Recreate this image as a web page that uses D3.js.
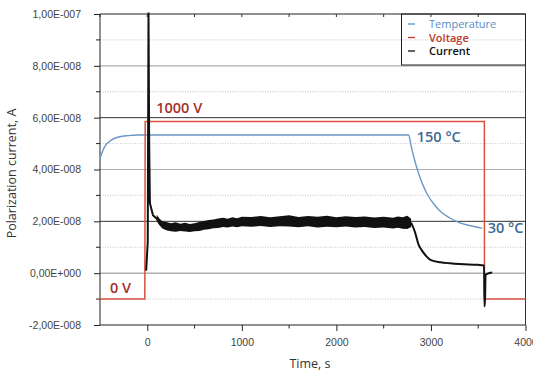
<!DOCTYPE html>
<html><head><meta charset="utf-8">
<script src="https://cdn.jsdelivr.net/npm/d3@7"></script>
<style>
html,body{margin:0;padding:0;background:#fff;}
svg{display:block;font-family:"Open Sans",sans-serif;}
</style></head>
<body>
<svg id="chart" width="533" height="372"></svg>
<script>
// ---------- DATA ----------
const UNIT = 1e-8; // current values below are in units of 1e-8 A

const xTicks = [0, 1000, 2000, 3000, 4000];
const xTickLabels = ["0", "1000", "2000", "3000", "4000"];
const xMinorTicks = [-500, 500, 1500, 2500, 3500];
const yTicks = [-2, 0, 2, 4, 6, 8, 10];
const yTickLabels = ["-2,00E-008", "0,00E+000", "2,00E-008", "4,00E-008", "6,00E-008", "8,00E-008", "1,00E-007"];
const yMinorTicks = [-1, 1, 3, 5, 7, 9];

const legendNames = ["Temperature", "Voltage", "Current"];

// Temperature (°C) vs time (s)
const tempTime = [-500, -450, -380, -300, -200, -100, 0, 2765, 2790, 2820, 2860, 2910, 2960, 3030, 3110, 3200, 3300, 3420, 3540];
const tempVal  = [120, 135, 143.5, 147.5, 149.3, 150, 150, 150, 136, 121, 104, 87, 74, 61, 50.5, 43, 37, 33, 30];

// Voltage (V) vs time (s)
const voltTime = [-500, -26, -22, 3565, 3566, 4000];
const voltVal  = [0, 0, 1000, 1000, 0, 0];

// Current (1e-8 A): spike + decay, then tail after temperature drop
const curTime = [-12, 5, 13, 20, 28, 60, 100, 150];
const curVal  = [0.1, 1.2, 10.06, 5.0, 2.7, 2.24, 2.1, 1.9];
const curTailTime = [2790, 2830, 2870, 2900, 2950, 3000, 3100, 3200, 3300, 3400, 3500, 3562, 3566, 3572, 3578, 3600, 3648];
const curTailVal  = [1.95, 1.6, 1.09, 0.9, 0.66, 0.5, 0.42, 0.38, 0.35, 0.33, 0.32, 0.30, -1.29, -1.0, -0.07, -0.02, 0.03];
// Noisy plateau band (envelope of the measured noise)
const bandTime = [100, 130, 160, 200, 250, 300, 350, 400, 450, 500, 550, 600, 650, 700, 750, 800, 850, 900, 950, 1000,
                  1100, 1200, 1300, 1400, 1500, 1600, 1700, 1800, 1900, 2000, 2100, 2200, 2300, 2400, 2500, 2600, 2650, 2700, 2750, 2790];
const bandHigh = [2.25, 2.10, 2.00, 1.97, 1.93, 1.96, 1.91, 1.95, 1.90, 1.93, 1.97, 2.01, 2.05, 2.07, 2.11, 2.14, 2.10, 2.16, 2.12, 2.18,
                  2.17, 2.21, 2.16, 2.20, 2.23, 2.17, 2.21, 2.18, 2.22, 2.16, 2.20, 2.17, 2.19, 2.15, 2.18, 2.14, 2.19, 2.16, 2.22, 2.10];
const bandLow  = [2.00, 1.84, 1.72, 1.66, 1.62, 1.60, 1.63, 1.61, 1.59, 1.62, 1.63, 1.68, 1.69, 1.73, 1.74, 1.78, 1.76, 1.80, 1.77, 1.81,
                  1.79, 1.82, 1.78, 1.81, 1.80, 1.77, 1.81, 1.76, 1.79, 1.77, 1.80, 1.76, 1.78, 1.74, 1.76, 1.72, 1.75, 1.71, 1.70, 1.78];

// ---------- CHART ----------
const svg = d3.select("#chart");
const L = 100, R = 525.5, T = 14, B = 325;

const x = d3.scaleLinear().domain([-500, 4000]).range([L, R]);
const y = d3.scaleLinear().domain([-2, 10]).range([B, T]);
const yT = d3.scaleLinear().domain([30, 150]).range([y(1.74), y(5.33)]);
const yV = d3.scaleLinear().domain([0, 1000]).range([y(-1), y(5.85)]);

// grid
const g = svg.append("g");
g.selectAll(".minor").data(yMinorTicks).join("line")
  .attr("x1", L).attr("x2", R).attr("y1", d => y(d)).attr("y2", d => y(d))
  .attr("stroke", "#b8b8b8").attr("stroke-width", 0.8).attr("stroke-dasharray", "1,1.5");
const majorStyle = {0: ["#8a8a8a", 1], 2: ["#333", 1], 4: ["#b0b0b0", 1], 6: ["#333", 1], 8: ["#c4c4c4", 1.6], 10: ["#222", 1]};
g.selectAll(".major").data(yTicks.filter(d => d > -2)).join("line")
  .attr("x1", L).attr("x2", R).attr("y1", d => y(d)).attr("y2", d => y(d))
  .attr("stroke", d => majorStyle[d][0]).attr("stroke-width", d => majorStyle[d][1]);

// right border
svg.append("line").attr("x1", R).attr("x2", R).attr("y1", T).attr("y2", B).attr("stroke", "#333");
// top inward ticks
svg.selectAll(".tt").data(xTicks.concat(xMinorTicks)).join("line")
  .attr("x1", d => x(d)).attr("x2", d => x(d)).attr("y1", T).attr("y2", T + 3).attr("stroke", "#333");

// axes
const yAxis = d3.axisLeft(y).tickValues(yTicks).tickSize(6).tickPadding(13)
  .tickFormat((d, i) => yTickLabels[i]);
const ya = svg.append("g").attr("transform", `translate(${L},0)`).call(yAxis);
ya.selectAll(".tick text").style("font-size", "10.5px").attr("fill", "#444");
ya.selectAll("line, path").attr("stroke", "#222");
ya.select("path").attr("d", `M0,${T}V${B}`);
ya.selectAll(".mt").data(yMinorTicks).join("line")
  .attr("x1", -4).attr("x2", 0).attr("y1", d => y(d)).attr("y2", d => y(d)).attr("stroke", "#222");

const xAxis = d3.axisBottom(x).tickValues(xTicks).tickSize(6).tickPadding(8)
  .tickFormat((d, i) => xTickLabels[i]);
const xa = svg.append("g").attr("transform", `translate(0,${B})`).call(xAxis);
xa.selectAll(".tick text").style("font-size", "10.5px").attr("fill", "#444");
xa.selectAll("line, path").attr("stroke", "#222");
xa.select("path").attr("d", `M${L},0H${R}`);
xa.selectAll(".mt").data(xMinorTicks.filter(d => d > -500)).join("line")
  .attr("x1", d => x(d)).attr("x2", d => x(d)).attr("y1", 0).attr("y2", 3.5).attr("stroke", "#222");

// axis titles
svg.append("text").attr("transform", `translate(16,${(T + B) / 2 + 4}) rotate(-90)`)
  .attr("text-anchor", "middle").style("font-size", "12.5px").attr("fill", "#333")
  .text("Polarization current, A");
svg.append("text").attr("x", 310).attr("y", 368).attr("text-anchor", "middle")
  .style("font-size", "12.5px").attr("fill", "#333").text("Time, s");

// temperature
const tempData = tempTime.map((t, i) => [t, tempVal[i]]);
svg.append("path").datum(tempData)
  .attr("d", d3.line().x(d => x(d[0])).y(d => yT(d[1])).curve(d3.curveMonotoneX))
  .attr("fill", "none").attr("stroke", "#6d98c6").attr("stroke-width", 1.4);

// voltage
const voltData = voltTime.map((t, i) => [t, voltVal[i]]);
svg.append("path").datum(voltData)
  .attr("d", d3.line().x(d => x(d[0])).y(d => yV(d[1])))
  .attr("fill", "none").attr("stroke", "#d9513f").attr("stroke-width", 1.5);

// current
const lineC = d3.line().x(d => x(d[0])).y(d => y(d[1]));
svg.append("path").datum(curTime.map((t, i) => [t, curVal[i]]))
  .attr("d", lineC).attr("fill", "none").attr("stroke", "#111").attr("stroke-width", 2);
const bandData = bandTime.map((t, i) => [t, bandLow[i], bandHigh[i]]);
svg.append("path").datum(bandData)
  .attr("d", d3.area().x(d => x(d[0])).y0(d => y(d[1])).y1(d => y(d[2])).curve(d3.curveLinear))
  .attr("fill", "#111");
svg.append("path").datum(curTailTime.map((t, i) => [t, curTailVal[i]]))
  .attr("d", lineC.curve(d3.curveMonotoneX)).attr("fill", "none").attr("stroke", "#111").attr("stroke-width", 2);

// annotations
const ann = [
  {t: "1000 V", x: x(95), y: yV(1000) - 9, c: "#a3302b"},
  {t: "0 V", x: x(-395), y: yV(0) - 6, c: "#a3302b"},
  {t: "150 °C", x: x(2850), y: yT(150) + 7, c: "#3e6b95"},
  {t: "30 °C", x: x(3600), y: yT(30) + 5, c: "#3e6b95"}
];
svg.selectAll(".ann").data(ann).join("text")
  .attr("x", d => d.x).attr("y", d => d.y).attr("fill", d => d.c)
  .style("font-size", "14.5px").style("font-weight", 600).text(d => d.t);

// legend
const lg = svg.append("g");
lg.append("rect").attr("x", 401.5).attr("y", T).attr("width", R - 401.5).attr("height", 51)
  .attr("fill", "none").attr("stroke", "#222").attr("stroke-width", 1);
const legColors = ["#5b8bc4", "#c0392b", "#111"];
const legWeights = [400, 600, 600];
legendNames.forEach((n, i) => {
  const yy = 28 + i * 13.5;
  lg.append("line").attr("x1", 408).attr("x2", 415).attr("y1", yy - 4).attr("y2", yy - 4)
    .attr("stroke", legColors[i]).attr("stroke-width", 1.3);
  lg.append("text").attr("x", 429).attr("y", yy).attr("fill", legColors[i])
    .style("font-size", "11px").style("font-weight", legWeights[i]).text(n);
});
</script>
</body></html>
